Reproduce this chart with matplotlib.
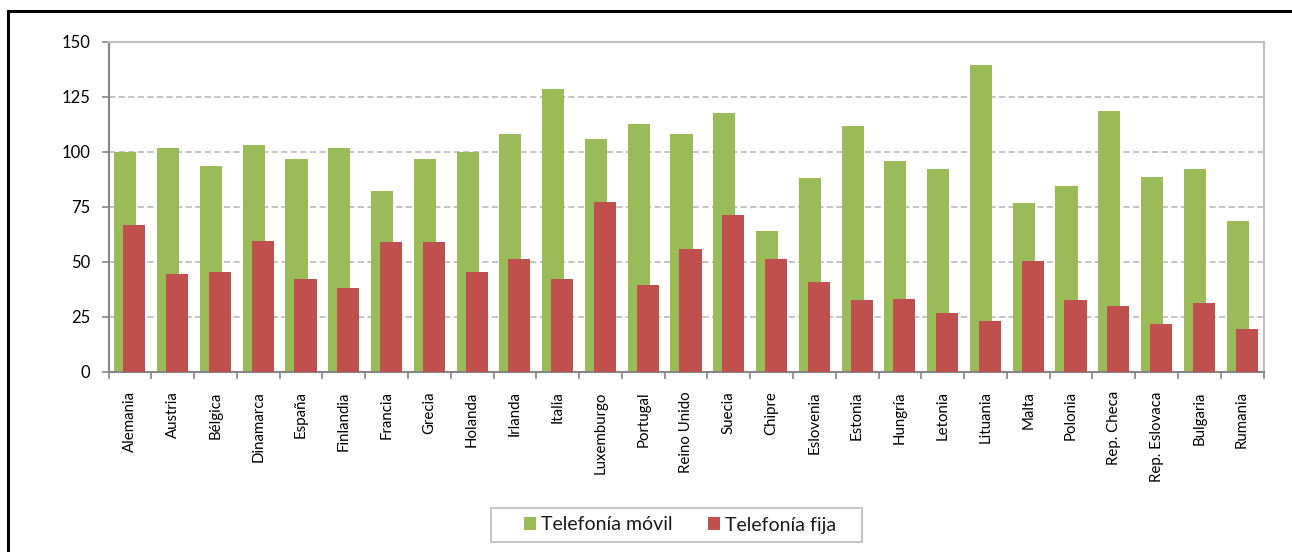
import matplotlib
matplotlib.use("Agg")
import matplotlib.pyplot as plt
from matplotlib.lines import Line2D
from matplotlib.patches import Rectangle
import numpy as np

paises = ["Alemania", "Austria", "Bélgica", "Dinamarca", "España", "Finlandia",
          "Francia", "Grecia", "Holanda", "Irlanda", "Italia", "Luxemburgo",
          "Portugal", "Reino Unido", "Suecia", "Chipre", "Eslovenia", "Estonia",
          "Hungría", "Letonia", "Lituania", "Malta", "Polonia", "Rep. Checa",
          "Rep. Eslovaca", "Bulgaria", "Rumania"]

movil = [100.0, 102.0, 93.6, 103.0, 96.8, 102.0, 82.2, 96.8, 100.0, 108.0,
         128.6, 105.9, 112.7, 108.0, 117.7, 64.0, 88.0, 111.8, 95.9, 92.0,
         139.5, 76.8, 84.5, 118.6, 88.6, 92.2, 68.6]

fija = [66.7, 44.4, 45.3, 59.5, 42.2, 38.1, 59.0, 59.0, 45.3, 51.3,
        42.2, 77.2, 39.4, 55.8, 71.3, 51.3, 40.8, 32.6, 33.0, 26.7,
        23.1, 50.4, 32.6, 29.9, 21.7, 31.2, 19.5]

yticks = [0, 25, 50, 75, 100, 125, 150]

verde = "#9BBB59"
rojo = "#C0504D"

plt.rcParams['font.family'] = ['Lato', 'DejaVu Sans']

fig = plt.figure(figsize=(12.92, 5.52), dpi=100)
ax = fig.add_axes([108.5 / 1292, 1 - 371.7 / 552, 1155 / 1292, 329.7 / 552])

x = np.arange(len(paises))
w = 0.515
ax.bar(x - 0.105, movil, w, color=verde, label="Telefonía móvil", zorder=2)
ax.bar(x + 0.105, fija, w, color=rojo, label="Telefonía fija", zorder=3)

ax.set_xlim(-0.5, len(paises) - 0.5)
ax.set_ylim(0, 150)
ax.set_yticks(yticks)
ax.set_yticklabels([str(v) for v in yticks], fontsize=12)

ax.set_xticks(x)
ax.set_xticklabels(paises, rotation=90, fontsize=10.8)
ax.tick_params(axis='x', length=0, pad=14)
ax.set_xticks(np.arange(-0.5, len(paises)), minor=True)
ax.tick_params(axis='x', which='minor', length=5, width=1.2, color="#868686")
ax.tick_params(axis='y', length=5, width=1.2, color="#868686", pad=8)

for v in yticks[1:-1]:
    ax.axhline(v, color="#C0C0C0", lw=1.3, dashes=(3.5, 1.8), zorder=1)

for s in ['left', 'bottom']:
    ax.spines[s].set_color("#868686")
    ax.spines[s].set_linewidth(1.5)
for s in ['top', 'right']:
    ax.spines[s].set_color("#BFBFBF")
    ax.spines[s].set_linewidth(1.5)

leg = fig.legend(loc='center', bbox_to_anchor=(680 / 1292, 1 - 525 / 552),
                 ncol=2, fontsize=14, frameon=False,
                 handlelength=0.62, handleheight=0.6, handletextpad=0.26,
                 columnspacing=1.8, borderpad=0, borderaxespad=0)
for t in leg.get_texts():
    t.set_color("#1A1A1A")

# recuadro de la leyenda
fig.add_artist(Rectangle((491 / 1292, 1 - 542 / 552), 371 / 1292, 34 / 552,
                         transform=fig.transFigure, fill=False,
                         edgecolor="#BFBFBF", lw=1.3))

# marco exterior recortado
fig.add_artist(Line2D([8 / 1292, 8 / 1292], [0, 1 - 10.5 / 552],
                      color="black", lw=2.2, transform=fig.transFigure))
fig.add_artist(Line2D([8 / 1292, 1], [1 - 10.5 / 552, 1 - 10.5 / 552],
                      color="black", lw=2.2, transform=fig.transFigure))

fig.savefig("out.png", dpi=100)
